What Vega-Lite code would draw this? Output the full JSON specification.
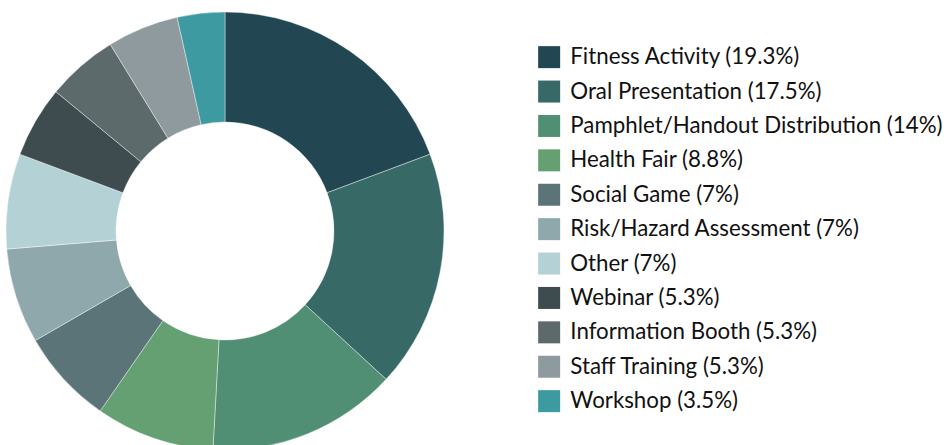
{
  "$schema": "https://vega.github.io/schema/vega-lite/v6.json",
  "width": 450,
  "height": 462,
  "autosize": {"type": "pad"},
  "padding": 0,
  "background": "white",
  "data": {
    "values": [
      {"i": 1, "activity": "Fitness Activity (19.3%)", "count": 11},
      {"i": 2, "activity": "Oral Presentation (17.5%)", "count": 10},
      {"i": 3, "activity": "Pamphlet/Handout Distribution (14%)", "count": 8},
      {"i": 4, "activity": "Health Fair (8.8%)", "count": 5},
      {"i": 5, "activity": "Social Game (7%)", "count": 4},
      {"i": 6, "activity": "Risk/Hazard Assessment (7%)", "count": 4},
      {"i": 7, "activity": "Other (7%)", "count": 4},
      {"i": 8, "activity": "Webinar (5.3%)", "count": 3},
      {"i": 9, "activity": "Information Booth (5.3%)", "count": 3},
      {"i": 10, "activity": "Staff Training (5.3%)", "count": 3},
      {"i": 11, "activity": "Workshop (3.5%)", "count": 2}
    ]
  },
  "mark": {"type": "arc", "outerRadius": 219, "innerRadius": 109, "stroke": "white", "strokeWidth": 0.4},
  "encoding": {
    "theta": {"field": "count", "type": "quantitative", "stack": true},
    "order": {"field": "i", "type": "quantitative"},
    "color": {
      "field": "activity",
      "type": "nominal",
      "scale": {
        "domain": ["Fitness Activity (19.3%)", "Oral Presentation (17.5%)", "Pamphlet/Handout Distribution (14%)", "Health Fair (8.8%)", "Social Game (7%)", "Risk/Hazard Assessment (7%)", "Other (7%)", "Webinar (5.3%)", "Information Booth (5.3%)", "Staff Training (5.3%)", "Workshop (3.5%)"],
        "range": ["#234653", "#376a66", "#518f74", "#65a073", "#5b7478", "#8fa8ab", "#b4d1d6", "#3f4c4f", "#5d6a6c", "#8e9a9e", "#3e9aa1"]
      },
      "legend": {
        "title": null,
        "orient": "none",
        "legendX": 538,
        "legendY": 46,
        "symbolType": "square",
        "symbolSize": 484,
        "symbolStrokeWidth": 0,
        "labelFont": "Lato",
        "labelFontSize": 22.3,
        "labelColor": "#111111",
        "labelOffset": 10,
        "rowPadding": 11.4,
        "labelLimit": 500
      }
    }
  },
  "config": {"view": {"stroke": null}}
}
